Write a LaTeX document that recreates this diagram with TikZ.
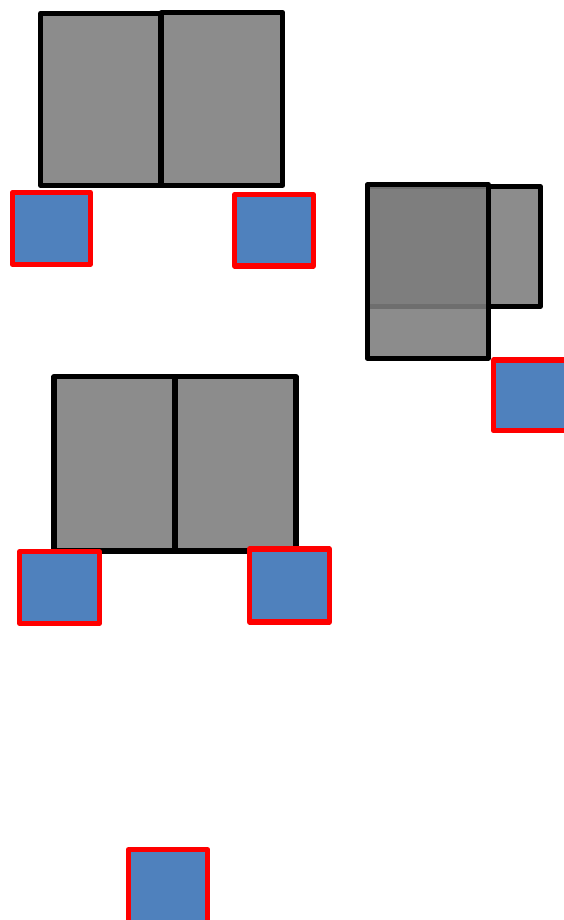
\documentclass[tikz,border=0pt]{standalone}
\usepackage{tikz}
\definecolor{boxgray}{RGB}{140,140,140}
\definecolor{darkgray2}{RGB}{125,125,125}
\definecolor{tileblue}{RGB}{79,129,189}
\definecolor{tilered}{RGB}{255,0,0}
\begin{document}
\begin{tikzpicture}[x=1pt,y=-1pt,
  graybox/.style={fill=boxgray,draw=black,line width=5.2pt,line join=round},
  overbox/.style={fill=darkgray2,fill opacity=0.887,draw=black,draw opacity=1,line width=5.2pt,line join=round},
  bluetile/.style={fill=tileblue,draw=tilered,line width=5.2pt,line join=round}]
\useasboundingbox (0,0) rectangle (564,920);
\begin{scope}
\clip (0,0) rectangle (564,920);
% group 1
\draw[graybox] (40.7,13.3) rectangle (160.5,185.3);
\draw[graybox] (161.5,12.5) rectangle (282.7,185.3);
\draw[bluetile] (12.3,192.3) rectangle (90.3,264.3);
\draw[bluetile] (234.7,194.7) rectangle (313.3,266);
% group 2
\draw[graybox] (367.2,186.5) rectangle (540.2,306.6);
\draw[overbox] (367.2,184.8) rectangle (488.2,358.2);
\draw[bluetile] (493.5,360) rectangle (572,430.8);
% group 3
\draw[graybox] (54,376.7) rectangle (174.3,551);
\draw[graybox] (175,376.7) rectangle (296,551);
\draw[bluetile] (19.7,551.7) rectangle (99.3,623.3);
\draw[bluetile] (249.7,549) rectangle (329.3,622);
% lone tile
\draw[bluetile] (128.3,849.7) rectangle (207.7,928);
\end{scope}
\end{tikzpicture}
\end{document}
